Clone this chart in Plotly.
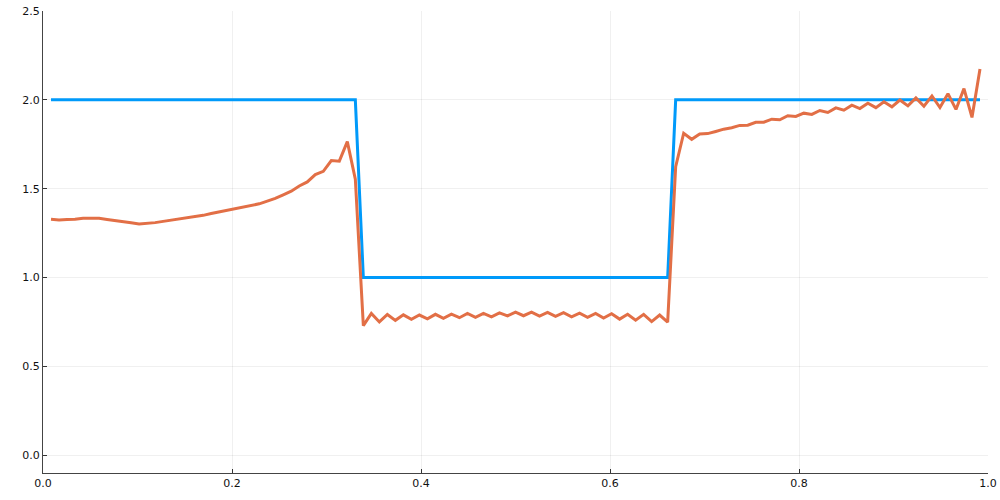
import numpy as np
import plotly.graph_objects as go

# grid points (117 interior points)
n_points = 117
x_vals = [i / 118 for i in range(1, n_points + 1)]

# exact solution (step)
exact = [2.0] * 39 + [1.0] * 39 + [2.0] * 39

# numerical solution
numeric = [
    1.328, 1.324, 1.327, 1.328, 1.334, 1.333, 1.333, 1.327, 1.322, 1.313,
    1.308, 1.302, 1.305, 1.309, 1.316, 1.322, 1.330, 1.336, 1.343, 1.350,
    1.360, 1.369, 1.378, 1.387, 1.396, 1.405, 1.415, 1.430, 1.445, 1.465,
    1.486, 1.515, 1.538, 1.579, 1.598, 1.658, 1.655, 1.765, 1.553,
    0.729, 0.798, 0.750, 0.792, 0.759, 0.790, 0.765, 0.789, 0.768, 0.793,
    0.770, 0.794, 0.774, 0.798, 0.776, 0.798, 0.779, 0.801, 0.784, 0.805,
    0.785, 0.805, 0.783, 0.804, 0.781, 0.802, 0.779, 0.800, 0.776, 0.798,
    0.772, 0.796, 0.766, 0.793, 0.760, 0.793, 0.752, 0.789, 0.749,
    1.624, 1.812, 1.778, 1.808, 1.810, 1.822, 1.835, 1.843, 1.856, 1.857,
    1.874, 1.874, 1.891, 1.888, 1.911, 1.907, 1.925, 1.918, 1.940, 1.929,
    1.955, 1.942, 1.970, 1.951, 1.981, 1.956, 1.989, 1.961, 1.999, 1.966,
    2.011, 1.964, 2.022, 1.957, 2.035, 1.946, 2.063, 1.901, 2.173,
]

x_ticks = [0.0, 0.2, 0.4, 0.6, 0.8, 1.0]
x_tick_labels = ["0.0", "0.2", "0.4", "0.6", "0.8", "1.0"]
y_ticks = [0.0, 0.5, 1.0, 1.5, 2.0, 2.5]
y_tick_labels = ["0.0", "0.5", "1.0", "1.5", "2.0", "2.5"]

fig = go.Figure()
fig.add_trace(go.Scatter(x=x_vals, y=exact, mode="lines",
                         line=dict(color="#009AFA", width=3), showlegend=False))
fig.add_trace(go.Scatter(x=x_vals, y=numeric, mode="lines",
                         line=dict(color="#E26F46", width=3), showlegend=False))

axis_common = dict(
    showline=True, linecolor="#444444", linewidth=1.2, mirror=False,
    ticks="inside", ticklen=4, tickcolor="#333333", tickwidth=1,
    showgrid=True, gridcolor="rgba(0,0,0,0.06)", gridwidth=1,
    zeroline=False, automargin=False,
    tickfont=dict(family="DejaVu Sans", size=11, color="#111111"),
)

fig.update_layout(
    width=1000, height=500,
    margin=dict(l=43, r=12, t=11, b=27),
    paper_bgcolor="white", plot_bgcolor="white",
    xaxis=dict(range=[0, 1], tickvals=x_ticks, ticktext=x_tick_labels, **axis_common),
    yaxis=dict(range=[-0.1, 2.5], tickvals=y_ticks, ticktext=y_tick_labels, **axis_common),
)

fig.write_html(
    "out.html",
    config={"displayModeBar": False},
    post_script="document.body.style.margin='0';document.body.style.padding='0';",
)
